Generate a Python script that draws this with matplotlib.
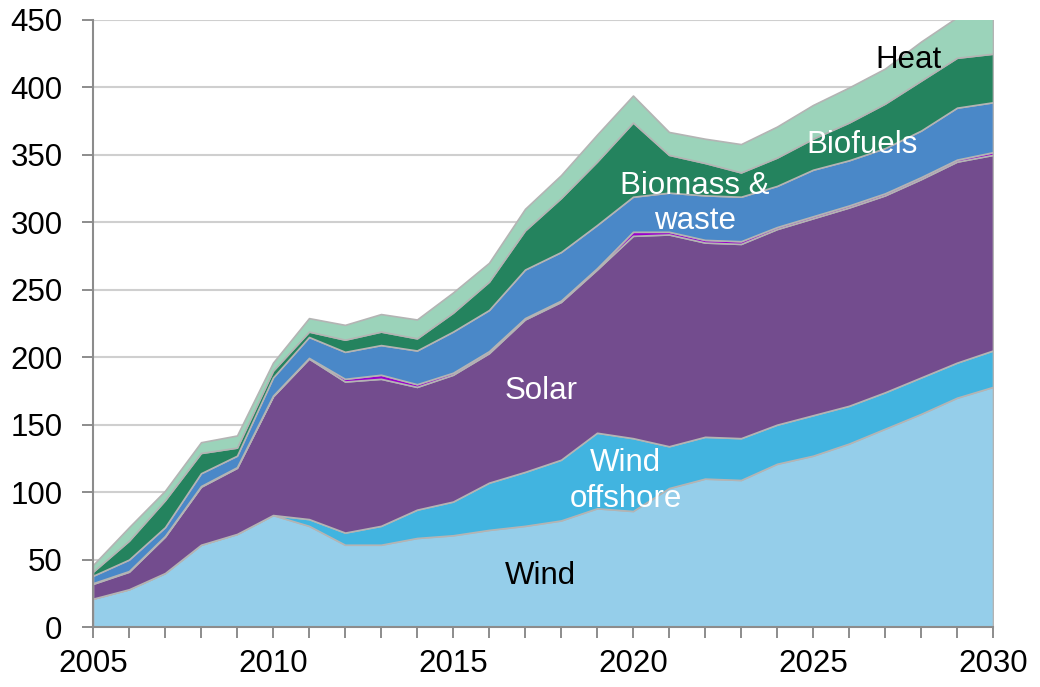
import numpy as np
import matplotlib
matplotlib.use('Agg')
import matplotlib.pyplot as plt
from matplotlib.ticker import MultipleLocator

plt.rcParams['font.family'] = ['Liberation Sans', 'DejaVu Sans']

years = np.arange(2005, 2031)

# layer values (stacked bottom to top)
wind     = [21, 28, 40, 61, 69, 83, 75, 61, 61, 66, 68, 72, 75, 79, 88, 86, 103, 110, 109, 121, 127, 136, 147, 158, 170, 178]
offshore = [0, 0, 0, 0, 0, 0, 5, 9, 14, 21, 25, 35, 40, 45, 56, 54, 31, 31, 31, 29, 30, 28, 27, 27, 26, 27]
solar    = [11, 13, 27, 43, 49, 88, 119, 112, 109, 91, 94, 96, 113, 117, 121, 150, 157, 144, 144, 145, 146, 147, 146, 147, 149, 145]
other    = [0.5, 0.5, 0.5, 0.5, 0.5, 0.5, 0.5, 2, 3, 2, 1.5, 1.5, 1, 1, 1, 3, 2, 2, 2, 1.5, 1.5, 1.5, 1.5, 1.5, 1.5, 2]
biomass  = [5.5, 8.5, 6.5, 9.5, 8.5, 13.5, 15.5, 20, 22, 25, 30.5, 30.5, 36, 36, 32, 26, 29, 33, 33, 30.5, 34.5, 33.5, 33.5, 34.5, 38.5, 37]
biofuels = [3, 14, 20, 15, 6, 5, 4, 9, 10, 9, 14, 21, 29, 40, 47, 55, 28, 24, 18, 21, 23, 28, 33, 37, 37, 36]
heat     = [5, 10, 7, 8, 9, 6, 10, 11, 13, 14, 15, 14, 16, 17, 20, 20, 17, 18, 21, 23, 25, 26, 26, 29, 30, 45]

colors = ['#95CEEA', '#41B4E0', '#734C8E', '#9900CC', '#4A88C8', '#24835E', '#9BD3BA']

fig = plt.figure(figsize=(10.4, 6.87), dpi=100)
ax = fig.add_axes([0.0894, 0.0873, 0.8654, 0.8836])

ax.stackplot(years, wind, offshore, solar, other, biomass, biofuels, heat,
             colors=colors, edgecolor='#B4B4B4', linewidth=1.2, zorder=2)

ax.set_xlim(2005, 2030)
ax.set_ylim(0, 450)
ax.xaxis.set_major_locator(MultipleLocator(5))
ax.xaxis.set_minor_locator(MultipleLocator(1))
ax.yaxis.set_major_locator(MultipleLocator(50))

ax.grid(axis='y', color='#CFCFCF', linewidth=1.5, zorder=0)
ax.set_axisbelow(True)
for s in ['top', 'right']:
    ax.spines[s].set_visible(False)
for s in ['left', 'bottom']:
    ax.spines[s].set_color('#8C8C8C')
    ax.spines[s].set_linewidth(1.5)

ax.tick_params(axis='both', which='both', direction='out', color='#8C8C8C', width=1.4)
ax.tick_params(axis='both', which='major', length=8, labelsize=22.5, colors='#8C8C8C', labelcolor='black')
ax.tick_params(axis='x', which='minor', length=8)
ax.tick_params(axis='x', which='major', pad=8)
ax.tick_params(axis='y', which='major', pad=14)

fs = 22.5
ax.text(2027.64, 420, 'Heat', color='black', fontsize=fs, ha='center', va='center')
ax.text(2026.36, 357, 'Biofuels', color='white', fontsize=fs, ha='center', va='center')
ax.text(2021.72, 314, 'Biomass &\nwaste', color='white', fontsize=fs, ha='center', va='center',
        linespacing=1.2)
ax.text(2017.44, 175, 'Solar', color='white', fontsize=fs, ha='center', va='center')
ax.text(2019.8, 108, 'Wind\noffshore', color='white', fontsize=fs, ha='center', va='center',
        linespacing=1.25)
ax.text(2017.44, 38, 'Wind', color='black', fontsize=fs, ha='center', va='center')

fig.savefig('out.png', dpi=100)
